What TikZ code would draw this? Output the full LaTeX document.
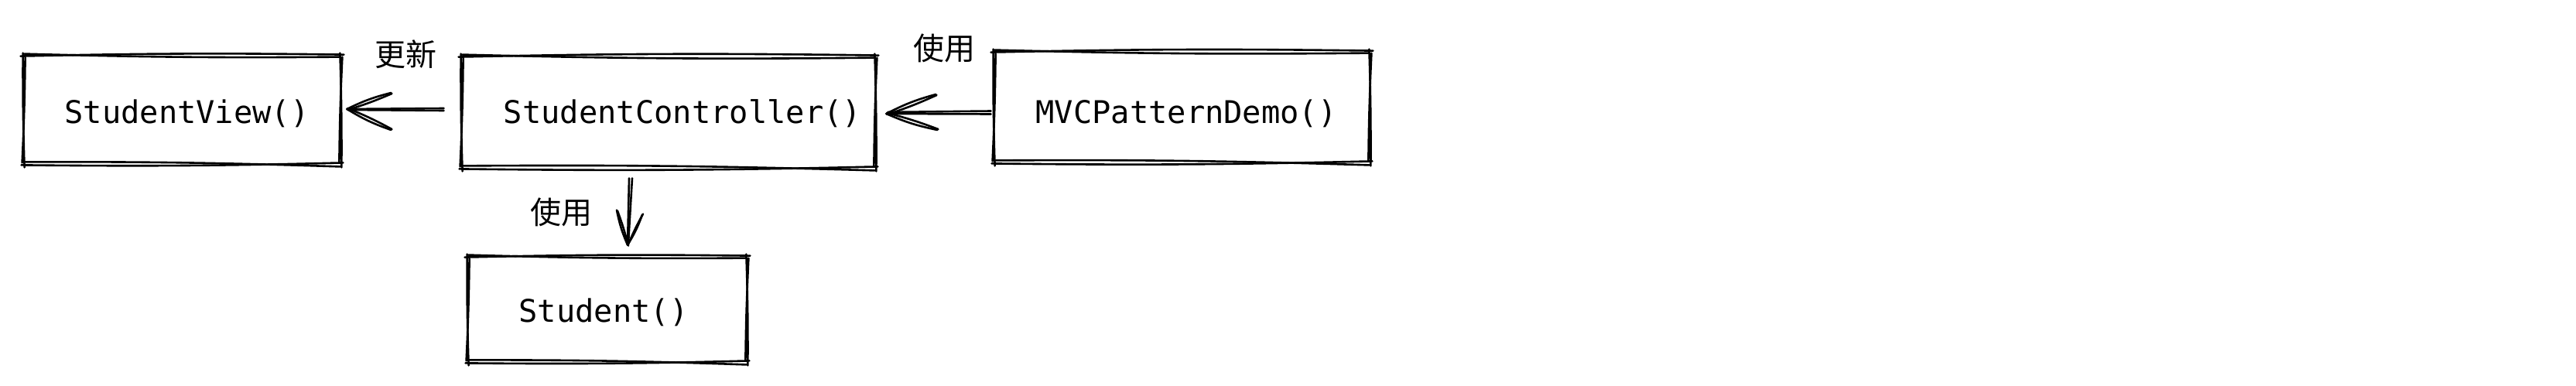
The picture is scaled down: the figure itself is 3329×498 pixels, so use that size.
\documentclass[tikz,border=0pt]{standalone}
\usepackage{fontspec}
\setmonofont{DejaVu Sans Mono}
\newfontfamily\cjk{Noto Sans CJK SC}
\newcommand\movetxt[3]{\raisebox{-#2}[\height][\depth]{\hspace{#1}#3}}
\begin{document}
\begin{tikzpicture}[x=0.5pt,y=-0.5pt,
  skline/.style={line width=1.3pt,line cap=round,line join=round,black},
  boxnode/.style={inner sep=0pt,font=\ttfamily\fontsize{20.2}{24}\selectfont},
  cjklabel/.style={inner sep=0pt,font=\cjk\fontsize{20}{24}\selectfont}]
\useasboundingbox (0,0) rectangle (3329,498);
\newcommand\skbox[1]{%
  \draw[skline] ([shift={(-4,1)}]#1.north west) to[bend left=1] ([shift={(4,-1)}]#1.north east);
  \draw[skline] ([shift={(1,-2)}]#1.north west) to[bend right=1] ([shift={(-2,2)}]#1.north east);
  \draw[skline] ([shift={(-1,-3)}]#1.north east) to[bend left=1] ([shift={(1,4)}]#1.south east);
  \draw[skline] ([shift={(2,2)}]#1.north east) to[bend right=1] ([shift={(-2,-3)}]#1.south east);
  \draw[skline] ([shift={(3,-2)}]#1.south east) to[bend left=1] ([shift={(-3,1)}]#1.south west);
  \draw[skline] ([shift={(-1,3)}]#1.south east) to[bend right=1] ([shift={(2,-3)}]#1.south west);
  \draw[skline] ([shift={(1,4)}]#1.south west) to[bend left=1] ([shift={(-1,-3)}]#1.north west);
  \draw[skline] ([shift={(-2,-2)}]#1.south west) to[bend right=1] ([shift={(2,3)}]#1.north west);
}
\newcommand\skhead[3]{%
  \draw[skline] (#1) to[bend left=6] ++(#2);
  \draw[skline] ([shift={(1,1)}]#1) to[bend right=3] ++(#2);
  \draw[skline] (#1) to[bend right=6] ++(#3);
  \draw[skline] ([shift={(1,-1)}]#1) to[bend left=3] ++(#3);
}
% boxes
\node[boxnode,minimum width=204.5pt,minimum height=70pt] (sv) at (235.5,142) {\movetxt{6pt}{2.5pt}{StudentView()}};
\node[boxnode,minimum width=267pt,minimum height=72pt] (sc) at (864,145) {\movetxt{18pt}{1pt}{StudentController()}};
\node[boxnode,minimum width=242.5pt,minimum height=71.5pt] (mvc) at (1527.5,138.5) {\movetxt{5.5pt}{4pt}{MVCPatternDemo()}};
\node[boxnode,minimum width=180pt,minimum height=68pt] (st) at (785,400) {\movetxt{0pt}{2pt}{Student()\hspace{5pt}}};
\skbox{sv}
\skbox{sc}
\skbox{mvc}
\skbox{st}
% labels
\node[cjklabel] (l1) at (524,70) {更新};
\node[cjklabel] (l2) at (1220,62) {使用};
\node[cjklabel] (l3) at (725,274) {使用};
% arrow SC -> SV
\coordinate (t1) at ([shift={(8,-1)}]sv.east);
\draw[skline] ([shift={(-23,-5)}]sc.west) -- (t1);
\draw[skline] ([shift={(-23,-2)}]sc.west) -- ([shift={(2,1)}]t1);
\skhead{t1}{57,-21}{57,27}
% arrow MVC -> SC
\coordinate (t2) at ([shift={(14,2)}]sc.east);
\draw[skline] ([shift={(-4,9)}]mvc.west) -- (t2);
\draw[skline] ([shift={(-4,5)}]mvc.west) -- ([shift={(2,-2)}]t2);
\skhead{t2}{64,-25}{66,21}
% arrow SC -> Student
\coordinate (t3) at ([shift={(26,-15)}]st.north);
\draw[skline] ([shift={(-51,13)}]sc.south) -- (t3);
\draw[skline] ([shift={(-47,13)}]sc.south) -- ([shift={(1,-2)}]t3);
\skhead{t3}{-14,-45}{19,-39}
\end{tikzpicture}
\end{document}
